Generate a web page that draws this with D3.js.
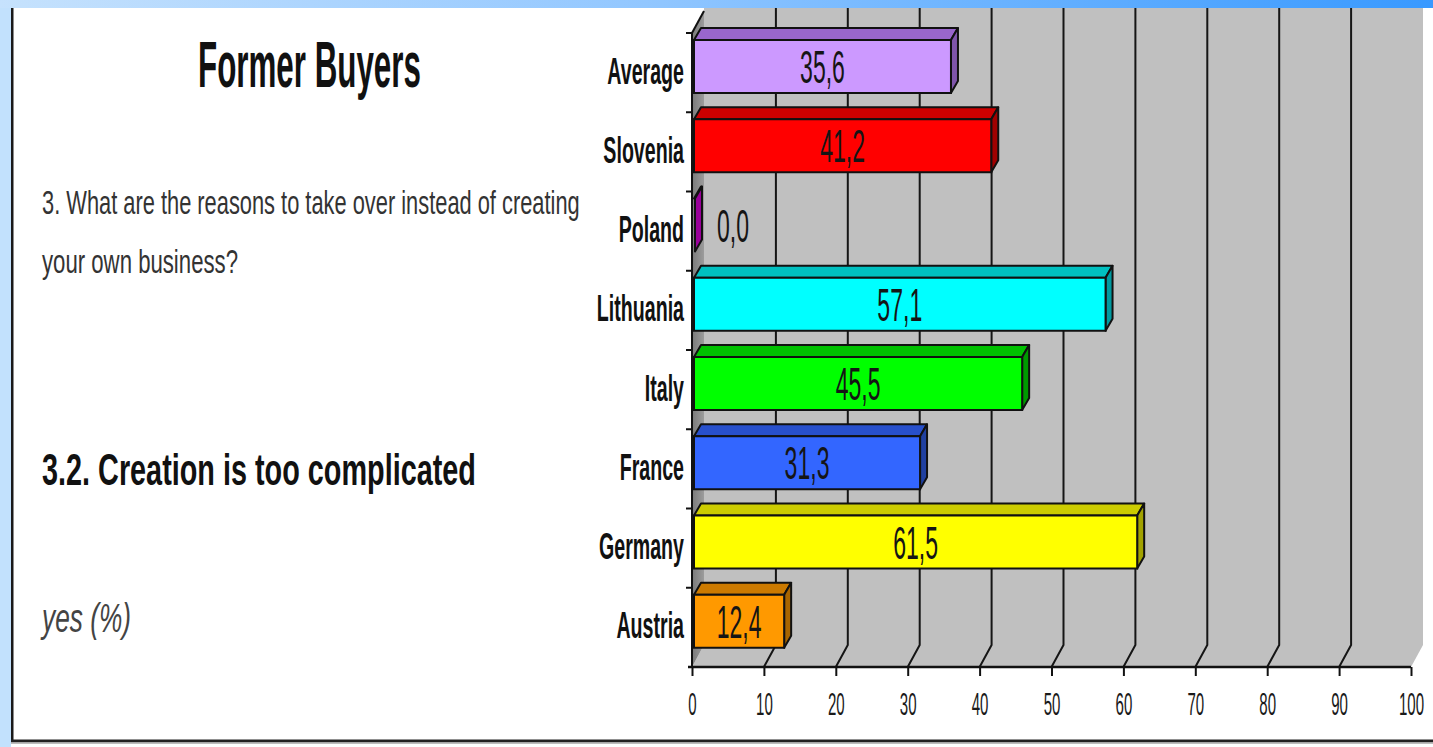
<!DOCTYPE html>
<html>
<head>
<meta charset="utf-8">
<script src="https://cdn.jsdelivr.net/npm/d3@7"></script>
<style>
  html, body { margin: 0; padding: 0; background: #ffffff; overflow: hidden; }
  svg { display: block; }
  text { font-family: "Liberation Sans", Arial, sans-serif; }
</style>
</head>
<body>
<svg id="chart" width="1433" height="747"></svg>
<script>
// Survey answers, share of "yes" in percent
const categories = ["Average", "Slovenia", "Poland", "Lithuania", "Italy", "France", "Germany", "Austria"];
const values     = [35.6, 41.2, 0.0, 57.1, 45.5, 31.3, 61.5, 12.4];
const frontColors = ["#cc99ff", "#ff0000", "#990099", "#00ffff", "#00ff00", "#3366ff", "#ffff00", "#ff9900"];
const topColors   = ["#9966cc", "#cc0000", "#7a007a", "#00c0c0", "#00c000", "#2850cc", "#cccc00", "#cc7a00"];
const sideColors  = ["#7f55aa", "#a00000", "#800080", "#009aa0", "#009900", "#2040a0", "#a3a300", "#a86500"];
const xTicks = [0, 10, 20, 30, 40, 50, 60, 70, 80, 90, 100];

const svg = d3.select("#chart");
const W = 1433, H = 747;

// Narrow lettering: place text at (x, y) and squeeze it horizontally
function squeezeAt(sel, x, y, factor) {
  sel.attr("x", 0).attr("y", 0)
     .attr("transform", `translate(${x},${y}) scale(${factor},1)`);
}
// Squeeze a text so that it spans the given width
function fitWidth(sel, x, y, width) {
  const w = sel.node().getComputedTextLength();
  squeezeAt(sel, x, y, width / w);
}

// ---- page frame ----
const defs = svg.append("defs");
const grad = defs.append("linearGradient").attr("id", "topband").attr("x1", 0).attr("x2", 1).attr("y1", 0).attr("y2", 0);
grad.append("stop").attr("offset", "0%").attr("stop-color", "#c6e2fd");
grad.append("stop").attr("offset", "45%").attr("stop-color", "#92c7ff");
grad.append("stop").attr("offset", "100%").attr("stop-color", "#3899ff");

const wallGrad = defs.append("linearGradient").attr("id", "sidewall").attr("x1", 0).attr("x2", 1).attr("y1", 0).attr("y2", 0);
wallGrad.append("stop").attr("offset", "0%").attr("stop-color", "#7a7a7a");
wallGrad.append("stop").attr("offset", "100%").attr("stop-color", "#9c9c9c");

svg.append("rect").attr("x", 0).attr("y", 0).attr("width", W).attr("height", H).attr("fill", "#ffffff");
svg.append("rect").attr("x", 0).attr("y", 0).attr("width", 11).attr("height", H).attr("fill", "#c2e1fd");

// ---- scales ----
const x = d3.scaleLinear().domain([0, 100]).range([692, 1411]);
const y = d3.scaleBand().domain(categories).range([30, 664]).padding(0);

const axisY = 667;                 // front edge of the floor
const wallDX = 12, wallDY = -22;   // depth of the plot box
const barDX = 7, barDY = -12;      // depth of each bar
const frontOffset = 10, frontH = 53;

const g = svg.append("g");

// back wall
g.append("rect")
  .attr("x", x(0) + wallDX).attr("y", 0)
  .attr("width", x(100) - x(0)).attr("height", axisY + wallDY)
  .attr("fill", "#c0c0c0");
// floor
g.append("polygon")
  .attr("points", [[x(0), axisY], [x(100), axisY], [x(100) + wallDX, axisY + wallDY], [x(0) + wallDX, axisY + wallDY]].map(p => p.join(",")).join(" "))
  .attr("fill", "#c0c0c0");
// left side wall
g.append("polygon")
  .attr("points", [[x(0), axisY], [x(0), y(categories[0]) + 3], [x(0) + wallDX, y(categories[0]) + 3 + wallDY], [x(0) + wallDX, axisY + wallDY]].map(p => p.join(",")).join(" "))
  .attr("fill", "url(#sidewall)");
g.append("line")
  .attr("x1", x(0)).attr("y1", y(categories[0]) + 3)
  .attr("x2", x(0) + wallDX).attr("y2", y(categories[0]) + 3 + wallDY)
  .attr("stroke", "#111").attr("stroke-width", 2);

// gridlines on the wall and floor
g.selectAll("path.grid")
  .data(xTicks.filter(d => d > 0 && d < 100))
  .join("path")
  .attr("class", "grid")
  .attr("d", d => `M${x(d)},${axisY} L${x(d) + wallDX},${axisY + wallDY} L${x(d) + wallDX},0`)
  .attr("fill", "none").attr("stroke", "#151515").attr("stroke-width", 2);

// ---- x axis ----
const xAxis = g.append("g")
  .attr("transform", `translate(0,${axisY})`)
  .call(d3.axisBottom(x).tickValues(xTicks).tickSize(9).tickSizeOuter(0).tickFormat(d3.format("d")));
xAxis.select(".domain").remove();
xAxis.selectAll(".tick line").attr("stroke", "#111").attr("stroke-width", 2);
xAxis.selectAll(".tick text")
  .attr("dy", null)
  .attr("font-size", 32)
  .attr("fill", "#1a1a1a")
  .attr("font-family", "Liberation Sans, Arial, sans-serif")
  .each(function () { squeezeAt(d3.select(this), 0, 48, 0.47); });
g.append("line")
  .attr("x1", x(0) - 4).attr("x2", x(100)).attr("y1", axisY).attr("y2", axisY)
  .attr("stroke", "#111").attr("stroke-width", 2.5);

// ---- y axis ----
g.append("line")
  .attr("x1", x(0)).attr("x2", x(0)).attr("y1", y(categories[0]) + 3).attr("y2", axisY)
  .attr("stroke", "#111").attr("stroke-width", 2);
g.selectAll("line.ytick")
  .data(categories)
  .join("line")
  .attr("class", "ytick")
  .attr("x1", x(0) - 6).attr("x2", x(0))
  .attr("y1", d => y(d) + 3).attr("y2", d => y(d) + 3)
  .attr("stroke", "#111").attr("stroke-width", 2);

const yAxis = g.append("g")
  .attr("transform", `translate(${x(0)},0)`)
  .call(d3.axisLeft(y).tickSize(0).tickPadding(8));
yAxis.select(".domain").remove();
yAxis.selectAll(".tick text")
  .attr("dy", "0.38em")
  .attr("font-size", 37)
  .attr("font-weight", "bold")
  .attr("fill", "#111")
  .attr("font-family", "Liberation Sans, Arial, sans-serif")
  .each(function () { squeezeAt(d3.select(this), -8, 0, 0.53); });

// ---- 3D bars ----
const bars = g.selectAll("g.bar")
  .data(categories.map((c, i) => ({ c, v: values[i], i })))
  .join("g").attr("class", "bar");

const fx0 = d => x(0) + 2;
const fx1 = d => x(d.v) + 3;
const ft = d => y(d.c) + frontOffset;
const fb = d => y(d.c) + frontOffset + frontH;

// top face
bars.append("polygon")
  .attr("points", d => [[fx0(d), ft(d)], [fx1(d), ft(d)], [fx1(d) + barDX, ft(d) + barDY], [fx0(d) + barDX, ft(d) + barDY]].map(p => p.join(",")).join(" "))
  .attr("fill", d => topColors[d.i])
  .attr("stroke", "#111").attr("stroke-width", 2).attr("stroke-linejoin", "round");
// side face
bars.append("polygon")
  .attr("points", d => [[fx1(d), ft(d)], [fx1(d) + barDX, ft(d) + barDY], [fx1(d) + barDX, fb(d) + barDY], [fx1(d), fb(d)]].map(p => p.join(",")).join(" "))
  .attr("fill", d => d.v === 0 ? frontColors[d.i] : sideColors[d.i])
  .attr("stroke", "#111").attr("stroke-width", 2).attr("stroke-linejoin", "round");
// front face
bars.filter(d => d.v > 0).append("rect")
  .attr("x", fx0).attr("y", ft)
  .attr("width", d => fx1(d) - fx0(d)).attr("height", frontH)
  .attr("fill", d => frontColors[d.i])
  .attr("stroke", "#111").attr("stroke-width", 2);

// value labels
const fmt = v => d3.format(".1f")(v).replace(".", ",");
bars.append("text")
  .attr("text-anchor", d => d.v > 0 ? "middle" : "start")
  .attr("font-size", 47)
  .attr("fill", "#151515")
  .text(d => fmt(d.v))
  .each(function (d) {
    const cx = d.v > 0 ? (fx0(d) + fx1(d)) / 2 : fx1(d) + 22;
    squeezeAt(d3.select(this), cx, ft(d) + frontH / 2 + 16.5, 0.49);
  });

// ---- text block on the left ----
svg.append("text")
  .attr("font-size", 64).attr("font-weight", "bold").attr("fill", "#111")
  .text("Former Buyers")
  .call(fitWidth, 198, 87, 223);
svg.append("text")
  .attr("font-size", 33).attr("fill", "#333")
  .text("3. What are the reasons to take over instead of creating")
  .call(fitWidth, 42, 214, 538);
svg.append("text")
  .attr("font-size", 33).attr("fill", "#333")
  .text("your own business?")
  .call(fitWidth, 42, 273, 196);
svg.append("text")
  .attr("font-size", 44).attr("font-weight", "bold").attr("fill", "#111")
  .text("3.2. Creation is too complicated")
  .call(fitWidth, 42, 485, 434);
svg.append("text")
  .attr("font-size", 40).attr("font-style", "italic").attr("fill", "#444")
  .text("yes (%)")
  .call(fitWidth, 42, 632, 89);

// ---- frame lines and top band (drawn last, over the wall) ----
svg.append("rect").attr("x", 0).attr("y", 0).attr("width", W).attr("height", 8).attr("fill", "url(#topband)");
svg.append("rect").attr("x", 11).attr("y", 8).attr("width", 2.5).attr("height", 734).attr("fill", "#1a1a1a");
svg.append("rect").attr("x", 11).attr("y", 739.5).attr("width", W - 11).attr("height", 3).attr("fill", "#222");
svg.append("rect").attr("x", 11).attr("y", 742.5).attr("width", W - 11).attr("height", 1.5).attr("fill", "#bdbdbd");
</script>
</body>
</html>
